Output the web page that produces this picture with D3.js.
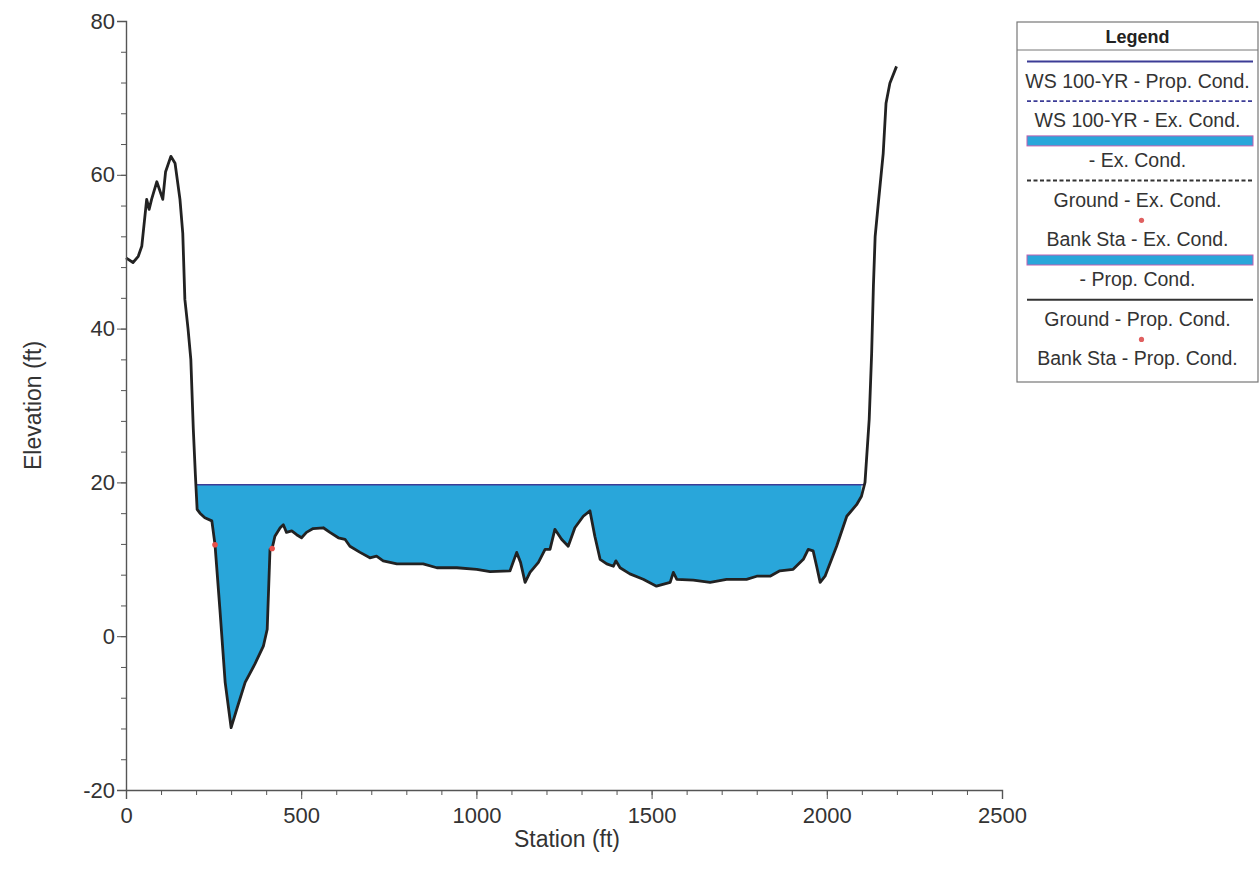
<!DOCTYPE html>
<html>
<head>
<meta charset="utf-8">
<script src="https://cdn.jsdelivr.net/npm/d3@7"></script>
<style>
  html, body { margin: 0; padding: 0; background: #fff; }
  svg { display: block; font-family: "Liberation Sans", Arial, sans-serif; }
</style>
</head>
<body>
<svg id="chart" width="1260" height="880"></svg>
<script>
// ---------- DATA ----------
const groundStation = [0, 20, 35, 45, 59, 66, 73, 88, 105, 113, 128, 140, 154, 162, 168, 177, 185, 192, 198, 203, 211, 225, 245, 254, 268, 283, 300, 316, 340, 368, 392, 403, 411, 417, 425, 440, 449, 458, 473, 487, 501, 515, 534, 563, 582, 606, 625, 639, 668, 696, 715, 734, 773, 810, 848, 887, 944, 1001, 1039, 1096, 1115, 1126, 1139, 1153, 1177, 1196, 1210, 1224, 1243, 1262, 1281, 1305, 1324, 1338, 1353, 1372, 1391, 1398, 1410, 1438, 1476, 1514, 1553, 1562, 1572, 1619, 1667, 1714, 1771, 1800, 1838, 1866, 1904, 1933, 1947, 1961, 1971, 1981, 1995, 2028, 2057, 2085, 2099, 2109, 2121, 2128, 2133, 2138, 2147, 2161, 2169, 2180, 2199];
const groundElev    = [49.2, 48.6, 49.4, 50.7, 56.8, 55.5, 56.8, 59.1, 56.8, 60.4, 62.4, 61.5, 56.8, 52.4, 43.8, 40.0, 36.0, 27.0, 21.0, 16.5, 16.0, 15.4, 15.0, 11.9, 3.5, -6.0, -11.9, -9.5, -6.0, -3.6, -1.3, 0.9, 11.3, 11.4, 13.0, 14.1, 14.5, 13.5, 13.7, 13.2, 12.8, 13.5, 14.0, 14.1, 13.5, 12.8, 12.6, 11.7, 10.9, 10.2, 10.4, 9.8, 9.4, 9.4, 9.4, 8.9, 8.9, 8.7, 8.4, 8.5, 10.9, 9.6, 7.0, 8.3, 9.6, 11.3, 11.3, 13.9, 12.6, 11.7, 14.1, 15.6, 16.3, 13.0, 10.0, 9.4, 9.1, 9.8, 8.9, 8.1, 7.4, 6.5, 7.0, 8.3, 7.4, 7.3, 7.0, 7.4, 7.4, 7.8, 7.8, 8.5, 8.7, 10.0, 11.3, 11.1, 9.1, 7.0, 7.8, 11.7, 15.6, 17.1, 18.2, 20.0, 28.2, 36.8, 45.5, 52.0, 56.3, 62.8, 69.3, 71.9, 74.1];
const wsElev = 19.7;                 // WS 100-YR water surface
const wsStations = [200, 2107];      // water surface extent
const bankStation = [254, 417];
const bankElev = [11.9, 11.4];
const xTicks = [0, 500, 1000, 1500, 2000, 2500];
const yTicks = [-20, 0, 20, 40, 60, 80];
const legendItems = [
  {type: "line", label: "WS 100-YR - Prop. Cond."},
  {type: "dash", label: "WS 100-YR - Ex. Cond."},
  {type: "rect", label: "- Ex. Cond."},
  {type: "dashk", label: "Ground - Ex. Cond."},
  {type: "dot", label: "Bank Sta - Ex. Cond."},
  {type: "rect", label: "- Prop. Cond."},
  {type: "linek", label: "Ground - Prop. Cond."},
  {type: "dot", label: "Bank Sta - Prop. Cond."}
];

// ---------- SETUP ----------
const svg = d3.select("#chart");
const L = 126, R = 1002, T = 21, B = 790;
const x = d3.scaleLinear().domain([0, 2500]).range([L, R]);
const y = d3.scaleLinear().domain([-20, 80]).range([B, T]);

const ground = groundStation.map((s, i) => ({s, e: groundElev[i]}));
const waterColor = "#29a6da";
const wsColor = "#3c3c96";
const FONT = "'Liberation Sans', Arial, sans-serif";

// water fill
const waterPts = ground.filter(d => d.s >= wsStations[0] && d.s <= wsStations[1]);
const area = d3.area()
  .x(d => x(d.s))
  .y0(y(wsElev))
  .y1(d => y(Math.min(d.e, wsElev)));
svg.append("path").datum(waterPts)
  .attr("d", area)
  .attr("fill", waterColor);

// WS line
svg.append("line")
  .attr("x1", x(wsStations[0])).attr("x2", x(wsStations[1]))
  .attr("y1", y(wsElev)).attr("y2", y(wsElev))
  .attr("stroke", wsColor).attr("stroke-width", 1.6);

// ground line
svg.append("path").datum(ground)
  .attr("d", d3.line().x(d => x(d.s)).y(d => y(d.e)))
  .attr("fill", "none")
  .attr("stroke", "#222")
  .attr("stroke-width", 2.8)
  .attr("stroke-linejoin", "round");

// bank stations
svg.selectAll("circle.bank").data(bankStation).enter().append("circle")
  .attr("class", "bank")
  .attr("cx", d => x(d))
  .attr("cy", (d, i) => y(bankElev[i]))
  .attr("r", 2.8)
  .attr("fill", "#e8504a");

// ---------- AXES ----------
const axisColor = "#555";
const xMinor = d3.range(0, 2501, 100);
const yMinor = d3.range(-20, 81, 4);

const gx = svg.append("g").attr("transform", `translate(0,${B})`);
gx.call(d3.axisBottom(x).tickValues(xMinor).tickSize(5).tickFormat(""));
gx.call(g => g.select(".domain").remove());
const gxMaj = svg.append("g").attr("transform", `translate(0,${B})`)
  .call(d3.axisBottom(x).tickValues(xTicks).tickSize(9).tickPadding(8).tickFormat(d3.format("d")));
gxMaj.selectAll("text").attr("font-size", 22).attr("fill", "#333").attr("font-family", FONT);

const gy = svg.append("g").attr("transform", `translate(${L},0)`);
gy.call(d3.axisLeft(y).tickValues(yMinor).tickSize(5).tickFormat(""));
gy.call(g => g.select(".domain").remove());
const gyMaj = svg.append("g").attr("transform", `translate(${L},0)`)
  .call(d3.axisLeft(y).tickValues(yTicks).tickSize(9).tickPadding(2).tickFormat(d3.format("d")));
gyMaj.selectAll("text").attr("font-size", 22).attr("fill", "#333").attr("font-family", FONT);
svg.selectAll(".tick line").attr("stroke", axisColor);
svg.selectAll(".domain").attr("stroke", axisColor).attr("stroke-width", 1.4);
svg.selectAll(".tick text").text(function(){ return d3.select(this).text().replace("\u2212", "-"); });

// axis titles
svg.append("text")
  .attr("x", 567).attr("y", 847)
  .attr("text-anchor", "middle").attr("font-size", 23).attr("fill", "#333")
  .text("Station (ft)");
svg.append("text")
  .attr("transform", `translate(41,${(T + B) / 2}) rotate(-90)`)
  .attr("text-anchor", "middle").attr("font-size", 23).attr("fill", "#333")
  .text("Elevation (ft)");

// ---------- LEGEND ----------
const lx0 = 1017, lx1 = 1258, ly0 = 22;
const lg = svg.append("g");
const rowH = 39.7;
const legH = 360;
lg.append("rect").attr("x", lx0).attr("y", ly0).attr("width", lx1 - lx0).attr("height", legH)
  .attr("fill", "#fff").attr("stroke", "#777").attr("stroke-width", 1.2);
lg.append("text").attr("x", (lx0 + lx1) / 2).attr("y", 43).attr("text-anchor", "middle")
  .attr("font-size", 18).attr("font-weight", "bold").attr("fill", "#222").text("Legend");
lg.append("line").attr("x1", lx0).attr("x2", lx1).attr("y1", 50).attr("y2", 50)
  .attr("stroke", "#777").attr("stroke-width", 1);

const cx = (lx0 + lx1) / 2;
legendItems.forEach((it, i) => {
  const sy = 61.5 + i * rowH;  // symbol y
  const ty = sy + 26;          // text baseline
  const sx0 = lx0 + 10, sx1 = lx1 - 5;
  if (it.type === "line" || it.type === "dash") {
    lg.append("line").attr("x1", sx0).attr("x2", sx1).attr("y1", sy).attr("y2", sy)
      .attr("stroke", wsColor).attr("stroke-width", 1.8)
      .attr("stroke-dasharray", it.type === "dash" ? "4,2.5" : null);
  } else if (it.type === "linek" || it.type === "dashk") {
    lg.append("line").attr("x1", sx0).attr("x2", sx1).attr("y1", sy).attr("y2", sy)
      .attr("stroke", "#333").attr("stroke-width", 2)
      .attr("stroke-dasharray", it.type === "dashk" ? "4,2.5" : null);
  } else if (it.type === "rect") {
    lg.append("rect").attr("x", sx0).attr("y", sy - 5).attr("width", sx1 - sx0).attr("height", 10)
      .attr("fill", waterColor).attr("stroke", "#c060b0").attr("stroke-width", 1);
  } else if (it.type === "dot") {
    lg.append("circle").attr("cx", cx + 4).attr("cy", sy).attr("r", 2.6).attr("fill", "#e06060");
  }
  lg.append("text").attr("x", cx).attr("y", ty).attr("text-anchor", "middle")
    .attr("font-size", 19.5).attr("fill", "#333").text(it.label);
});
</script>
</body>
</html>
